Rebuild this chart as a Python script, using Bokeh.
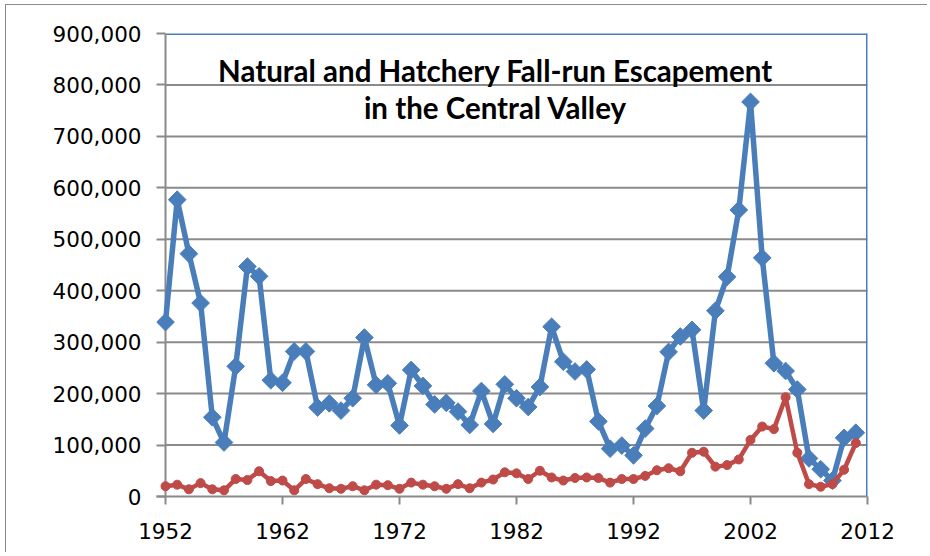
from bokeh.plotting import figure
from bokeh.models import (ColumnDataSource, FixedTicker, NumeralTickFormatter,
                          Range1d, Label, Span)
from bokeh.embed import file_html
from bokeh.resources import INLINE
import math

years = list(range(1952, 2012))
natural_escapement = [
    339000, 577000, 472000, 376000, 154000, 105000, 253000, 447000, 428000, 226000,
    221000, 282000, 282000, 173000, 181000, 167000, 191000, 309000, 217000, 220000,
    138000, 246000, 215000, 179000, 182000, 165000, 139000, 205000, 141000, 218000,
    191000, 174000, 213000, 330000, 262000, 243000, 247000, 146000, 93000, 99000,
    80000, 132000, 176000, 281000, 311000, 324000, 167000, 361000, 427000, 557000,
    767000, 464000, 259000, 244000, 208000, 74000, 53000, 31000, 114000, 124000,
]
hatchery_escapement = [
    20000, 23000, 14000, 26000, 14000, 12000, 34000, 32000, 49000, 30000,
    31000, 12000, 34000, 24000, 16000, 15000, 20000, 12000, 23000, 22000,
    15000, 27000, 23000, 20000, 15000, 24000, 16000, 27000, 33000, 47000,
    45000, 34000, 50000, 37000, 31000, 36000, 37000, 36000, 27000, 34000,
    34000, 40000, 51000, 55000, 49000, 85000, 87000, 58000, 61000, 72000,
    110000, 136000, 131000, 193000, 85000, 24000, 19000, 24000, 52000, 104000,
]
x_ticks = [1952, 1962, 1972, 1982, 1992, 2002, 2012]
y_ticks = [0, 100000, 200000, 300000, 400000, 500000, 600000, 700000, 800000, 900000]
title_lines = ["Natural and Hatchery Fall-run Escapement", "in the Central Valley"]

BLUE = "#4a7ebb"
RED = "#be4b48"
GRAY = "#8a8a8a"

# plot area: 702 px for the 60 year span, plus 9 px of room left of the value axis
PAD_PX = 9
SPAN_PX = 702
x_start = x_ticks[0] - (x_ticks[-1] - x_ticks[0]) * PAD_PX / SPAN_PX

p = figure(output_backend="svg", toolbar_location=None,
           frame_width=SPAN_PX + PAD_PX, frame_height=463,
           min_border_left=150, min_border_right=60,
           min_border_top=28, min_border_bottom=56,
           x_range=Range1d(x_start, x_ticks[-1]), y_range=Range1d(0, 900000))
p.margin = (4, 0, 0, 5)
p.styles = {"border-left": "1px solid #8c8c8c", "border-top": "1px solid #8c8c8c"}

p.background_fill_color = "white"
p.border_fill_color = "white"
p.outline_line_color = None
p.grid.visible = False

for ax in (p.xaxis[0], p.yaxis[0]):
    ax.axis_line_color = GRAY
    ax.axis_line_width = 2
    ax.major_tick_line_color = GRAY
    ax.major_tick_line_width = 2
    ax.minor_tick_line_color = None
    ax.major_label_text_font = "DejaVu Sans"
    ax.major_label_text_color = "#000000"
    ax.major_label_text_font_size = "21.5px"

p.xaxis.ticker = FixedTicker(ticks=x_ticks)
p.xaxis.major_tick_in = 0
p.xaxis.major_tick_out = 8
p.xaxis.major_label_standoff = 18

p.yaxis.ticker = FixedTicker(ticks=y_ticks)
p.yaxis.formatter = NumeralTickFormatter(format="0,0")
p.yaxis.axis_line_color = None
p.yaxis.major_tick_in = PAD_PX
p.yaxis.major_tick_out = 0
p.yaxis.major_label_standoff = 15

# horizontal gridlines and top edge, from first to last year tick
grid_y = y_ticks[1:-1]
p.segment(x0=[x_ticks[0]] * len(grid_y), x1=[x_ticks[-1]] * len(grid_y),
          y0=grid_y, y1=grid_y, line_color=GRAY, line_width=2, level="underlay")
p.segment(x0=[x_ticks[0]], x1=[x_ticks[-1]], y0=[y_ticks[-1]], y1=[y_ticks[-1]],
          line_color=BLUE, line_width=3, level="underlay")
p.add_layout(Span(location=x_ticks[0], dimension="height", line_color=GRAY,
                  line_width=2, level="underlay"))
p.add_layout(Span(location=x_ticks[-1], dimension="height", line_color=BLUE,
                  line_width=3, level="underlay"))

src = ColumnDataSource(dict(x=years, nat=natural_escapement, hat=hatchery_escapement))

p.line("x", "nat", source=src, line_color=BLUE, line_width=5.5)
p.scatter("x", "nat", source=src, marker="square", size=12.5, angle=math.pi / 4,
          fill_color=BLUE, line_color=BLUE)

p.line("x", "hat", source=src, line_color=RED, line_width=4.5)
p.scatter("x", "hat", source=src, marker="circle", size=9,
          fill_color=RED, line_color=RED)

for txt, yoff in zip(title_lines, [426, 389]):
    p.add_layout(Label(x=330 + PAD_PX, y=yoff, x_units="screen", y_units="screen",
                       text=txt, text_font="Lato", text_font_style="bold",
                       text_font_size="29.5px", text_color="#000000",
                       text_align="center", text_baseline="middle"))

open("out.html", "w").write(file_html(p, INLINE))
